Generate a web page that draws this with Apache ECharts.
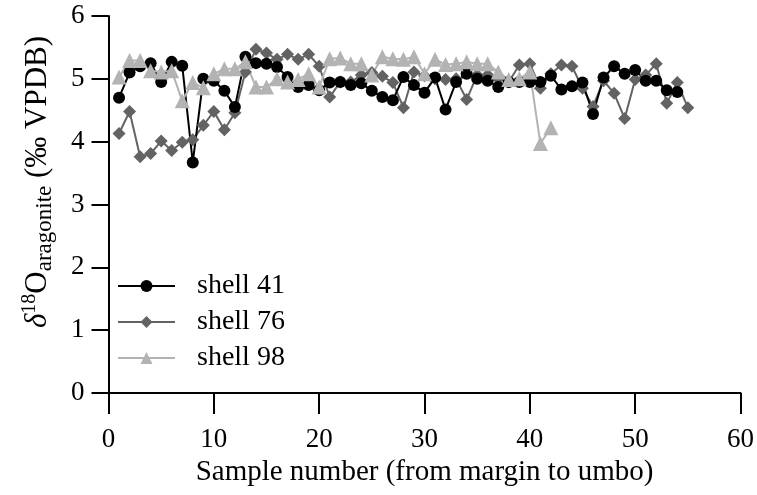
<!DOCTYPE html>
<html>
<head>
<meta charset="utf-8">
<script src="https://cdn.jsdelivr.net/npm/echarts@6/dist/echarts.min.js"></script>
<style>
html,body{margin:0;padding:0;background:#fff;}
#chart{width:757px;height:495px;}
</style>
</head>
<body>
<div id="chart"></div>
<script>
const samples = [1,2,3,4,5,6,7,8,9,10,11,12,13,14,15,16,17,18,19,20,21,22,23,24,25,26,27,28,29,30,31,32,33,34,35,36,37,38,39,40,41,42,43,44,45,46,47,48,49,50,51,52,53,54,55];
const shell41 = [4.70,5.10,5.20,5.25,4.95,5.27,5.21,3.67,5.00,4.97,4.81,4.55,5.35,5.25,5.24,5.19,5.03,4.87,4.90,4.82,
                 4.94,4.95,4.90,4.93,4.81,4.71,4.66,5.03,4.90,4.78,5.02,4.51,4.95,5.08,5.00,4.97,4.87,4.95,4.95,4.95,
                 4.95,5.05,4.83,4.88,4.94,4.44,5.02,5.20,5.08,5.14,4.97,4.97,4.82,4.79];
const shell76 = [4.13,4.48,3.76,3.81,4.01,3.86,3.99,4.03,4.26,4.48,4.19,4.46,5.11,5.47,5.41,5.31,5.39,5.31,5.39,5.20,
                 4.71,4.95,4.95,5.06,5.10,5.04,4.94,4.54,5.11,5.05,5.00,4.99,5.00,4.67,5.06,5.06,5.00,4.95,5.22,5.24,
                 4.85,5.08,5.22,5.20,4.85,4.56,4.97,4.77,4.37,4.99,5.06,5.24,4.61,4.94,4.54];
const shell98 = [5.03,5.29,5.29,5.13,5.11,5.13,4.65,4.94,4.86,5.08,5.16,5.16,5.27,4.87,4.87,5.00,4.95,4.99,5.08,4.87,
                 5.32,5.33,5.24,5.24,5.06,5.35,5.32,5.31,5.35,5.08,5.31,5.23,5.24,5.27,5.24,5.24,5.11,4.99,5.00,5.11,
                 3.97,4.22];
const xTicks = [0,10,20,30,40,50,60];
const yTicks = [0,1,2,3,4,5,6];

const FONT = 'Liberation Serif';
function pairs(vals){ return vals.map((v,i)=>[samples[i], v]); }

const chart = echarts.init(document.getElementById('chart'));
chart.setOption({
  animation:false,
  backgroundColor:'#fff',
  grid:{left:108.5,right:14,top:16,bottom:102,containLabel:false},
  xAxis:{
    type:'value',min:xTicks[0],max:xTicks[xTicks.length-1],interval:10,
    name:'Sample number (from margin to umbo)',nameLocation:'middle',nameGap:59,
    nameTextStyle:{fontFamily:FONT,fontSize:29,color:'#000'},
    axisLine:{show:true,onZero:false,lineStyle:{color:'#000',width:2}},
    axisTick:{show:true,length:21,lineStyle:{color:'#000',width:2}},
    axisLabel:{fontFamily:FONT,fontSize:27,color:'#000',margin:33},
    splitLine:{show:false}
  },
  yAxis:{
    type:'value',min:yTicks[0],max:yTicks[yTicks.length-1],interval:1,
    axisLine:{show:true,onZero:false,lineStyle:{color:'#000',width:2}},
    axisTick:{show:true,length:17,lineStyle:{color:'#000',width:2}},
    axisLabel:{fontFamily:FONT,fontSize:27,color:'#000',margin:24},
    splitLine:{show:false}
  },
  legend:{
    orient:'vertical',left:112,top:266,itemWidth:57,itemHeight:15,itemGap:6,
    data:['shell 41','shell 76','shell 98'],
    textStyle:{fontFamily:FONT,fontSize:28,color:'#000',lineHeight:30,padding:[0,0,0,17]}
  },
  graphic:[{
    type:'text',x:38,y:182,rotation:Math.PI/2,
    style:{
      text:'{i|δ}{sup|18}{m|O}{sub|aragonite}{m| (‰ VPDB)}',
      align:'center',verticalAlign:'middle',fill:'#000',
      rich:{
        i:{fontFamily:FONT,fontStyle:'italic',fontSize:31,lineHeight:36,fill:'#000'},
        m:{fontFamily:FONT,fontSize:31,lineHeight:36,fill:'#000'},
        sup:{fontFamily:FONT,fontSize:20,lineHeight:19,verticalAlign:'top',fill:'#000'},
        sub:{fontFamily:FONT,fontSize:23,lineHeight:8,verticalAlign:'bottom',fill:'#000'}
      }
    }
  }],
  series:[
    {name:'shell 76',type:'line',data:pairs(shell76),symbol:'diamond',symbolSize:13,
     itemStyle:{color:'#636363'},lineStyle:{color:'#636363',width:2}},
    {name:'shell 41',type:'line',data:pairs(shell41),symbol:'circle',symbolSize:12,
     itemStyle:{color:'#000'},lineStyle:{color:'#000',width:2}},
    {name:'shell 98',type:'line',data:pairs(shell98),symbol:'triangle',symbolSize:15,
     itemStyle:{color:'#b3b3b3'},lineStyle:{color:'#b3b3b3',width:2}}
  ]
});
</script>
</body>
</html>
